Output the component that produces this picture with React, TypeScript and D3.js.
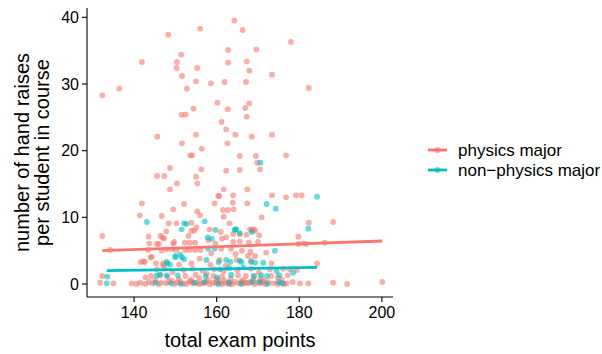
import React from 'react';
import * as d3 from 'd3';

const W = 602;
const H = 354;

const xTicks = [140, 160, 180, 200];
const yTicks = [0, 10, 20, 30, 40];
const xTitle = 'total exam points';
const yTitleLines = ['number of hand raises', 'per student in course'];
const groupNames = ['physics major', 'non−physics major'];
const groupColors = ['#F8766D', '#00BFC4'];

// physics major students: [total exam points, hand raises per student]
const physicsPoints: [number, number][] = [
  [164.3,39.5],[156.0,38.3],[166.3,38.1],[148.3,37.4],[178.0,36.3],[169.6,35.2],[162.8,35.1],[151.4,34.4],[167.3,33.4],[141.9,33.3],
  [150.4,33.3],[162.8,33.2],[150.3,32.4],[155.3,32.4],[167.9,32.0],[173.4,31.4],[151.6,31.2],[155.0,30.4],[161.9,30.3],[167.1,30.3],
  [158.6,30.1],[182.3,29.4],[136.4,29.3],[152.8,29.3],[132.3,28.3],[160.2,27.2],[167.9,27.1],[166.9,26.4],[154.4,26.3],[162.7,26.2],
  [151.5,25.4],[152.5,25.4],[167.3,25.1],[161.2,24.3],[162.3,23.2],[164.5,22.4],[155.0,22.4],[173.4,22.4],[145.6,22.1],[168.5,22.1],
  [151.6,21.1],[162.6,21.1],[156.4,20.3],
  [153.6,19.3],[154.1,19.3],[165.6,19.2],[169.5,19.2],[176.8,19.3],[169.8,18.2],[148.7,17.4],[156.3,17.2],[170.5,17.2],[165.6,17.1],
  [162.3,17.0],[145.6,16.2],[147.3,16.2],[155.0,16.1],[150.4,15.1],[155.3,15.1],[148.7,14.2],[161.7,14.2],[167.4,14.2],[164.0,13.3],
  [173.4,13.3],[179.2,13.3],[180.6,13.3],[160.4,13.2],[160.6,13.2],[176.8,13.0],[163.9,12.2],[141.9,12.1],[159.5,12.1],[167.4,12.1],
  [152.1,12.0],[149.5,11.2],[164.1,11.2],[161.5,11.1],[162.7,11.1],[155.3,10.9],[141.4,10.3],[156.0,10.3],[146.7,10.2],[161.7,10.1],
  [170.9,10.0],
  [188.2,9.3],[153.9,9.2],[182.3,9.2],[148.4,9.1],[150.3,9.1],[163.1,9.1],[155.1,8.5],[158.3,8.2],[168.1,8.2],[169.0,8.2],
  [153.9,8.0],[154.6,8.0],[168.5,8.1],[169.3,8.0],[147.8,7.9],[161.0,7.8],[164.0,7.5],[165.6,7.5],[167.2,7.4],[170.3,7.3],
  [132.3,7.2],[143.5,7.1],[146.4,7.2],[146.9,7.0],[153.2,7.2],[179.8,7.1],[162.3,7.0],[147.3,6.8],[161.3,6.8],[158.0,6.6],
  [149.7,6.3],[164.0,6.3],[170.0,6.3],[152.3,6.2],[153.5,6.2],[154.8,6.2],[165.6,6.4],[167.8,6.2],[186.2,6.2],[143.7,6.1],
  [149.5,6.1],[159.7,6.1],[181.0,6.1],[146.0,6.0],[145.5,6.0],[179.8,6.0],[181.8,6.0],
  [147.9,5.2],[149.2,5.2],[134.2,5.1],[143.4,5.1],[150.2,5.1],[152.4,5.1],[153.5,5.1],[154.8,5.1],[156.1,5.1],[161.1,5.3],
  [163.5,5.3],[146.7,5.0],[166.1,5.0],[168.2,4.8],[172.0,4.7],[158.7,4.6],[164.6,4.5],
  [144.0,4.0],[144.3,4.1],[167.6,4.2],[169.3,4.2],[160.7,3.6],[164.8,3.6],[168.4,3.5],[155.9,3.8],[141.6,3.3],[142.6,3.3],
  [142.3,3.4],[145.3,3.1],[147.0,3.1],[153.9,3.1],[173.3,3.1],[184.3,3.1],[147.1,2.8],[158.5,2.9],[162.2,2.7],[150.9,2.9],
  [145.5,2.2],[147.4,2.3],[152.0,2.1],[154.2,2.3],[156.6,2.0],[159.4,2.2],[165.0,2.1],[168.3,2.3],[172.9,2.2],[176.1,2.3],
  [177.7,2.2],[179.4,2.1],[161.7,1.9],[149.3,1.8],[170.2,1.7],
  [132.3,1.2],[144.1,1.2],[146.3,1.3],[148.1,1.1],[152.4,1.2],[154.9,1.4],[159.2,1.2],[161.3,1.1],[165.2,1.3],[167.1,1.2],
  [169.0,1.1],[173.2,1.2],[177.2,1.3],[155.8,0.9],[163.4,0.8],[150.8,0.7],[170.6,0.8],[142.8,1.0],[157.6,1.5],[174.8,1.0],
  [157.9,0.6],[161.9,0.5],[166.4,0.6],[149.1,0.5],[171.4,0.5],[175.8,0.6],[153.7,0.6],[145.1,0.6],[168.9,0.6],[160.2,0.7],
  [131.8,0.2],[135.0,0.1],[139.4,0.1],[141.5,0.2],[142.7,0.0],[143.6,0.3],[144.4,0.1],[145.9,0.0],[146.5,0.2],[147.6,0.1],
  [148.3,0.3],[149.7,0.0],[150.4,0.2],[151.9,0.1],[152.6,0.0],[153.3,0.3],[154.2,0.1],[155.1,0.2],[155.7,0.0],[156.9,0.1],
  [157.4,0.3],[158.3,0.0],[159.0,0.2],[159.8,0.1],[160.7,0.3],[161.2,0.0],[162.1,0.1],[162.9,0.2],[163.8,0.0],[164.4,0.3],
  [165.3,0.1],[166.1,0.0],[166.8,0.2],[167.7,0.1],[168.2,0.3],[169.1,0.0],[169.9,0.2],[170.7,0.1],[171.8,0.0],[172.4,0.3],
  [173.6,0.1],[174.7,0.0],[175.5,0.2],[177.0,0.1],[178.4,0.3],[180.2,0.1],[182.2,0.1],[188.2,0.2],[191.6,0.0],[200.1,0.3],
  [140.6,0.0],[151.2,0.3],[156.3,0.1],[163.1,0.0],[167.2,0.2],[171.1,0.3],[176.3,0.0],[154.0,0.4],[160.0,0.4],[166.0,0.4],
];

// non-physics major students
const nonPhysicsPoints: [number, number][] = [
  [170.6,18.2],[184.3,13.1],[172.1,12.0],[174.3,11.3],[157.1,9.4],[143.1,9.3],[152.1,9.1],[152.7,9.0],[182.2,8.3],[151.5,8.2],
  [164.5,8.2],[164.8,8.2],[159.7,8.1],[164.4,8.1],[168.5,7.8],[165.6,7.6],[157.8,7.0],[158.8,6.8],[159.5,5.3],[157.9,5.3],
  [174.1,5.0],[150.0,4.2],[151.2,4.4],[150.0,4.0],[151.6,4.0],[152.1,3.7],[157.5,3.6],[162.3,3.6],[165.6,3.5],[147.9,3.3],
  [148.0,3.1],[148.7,2.9],[171.3,3.2],[169.3,3.2],[160.5,3.3],[163.3,3.3],[166.0,3.3],[168.3,3.3],[174.5,1.9],[178.5,1.7],
  [163.0,2.4],[166.5,2.5],[160.8,2.2],
  [133.5,1.1],[145.5,1.3],[146.3,1.4],[147.9,1.3],[150.6,1.3],[157.3,1.2],[163.5,1.4],[169.0,1.2],[170.8,1.3],[172.2,1.2],
  [175.2,1.3],[160.1,1.0],
  [133.4,0.1],[145.2,0.2],[148.9,0.1],[151.3,0.0],[154.6,0.2],[157.0,0.3],[160.4,0.0],[163.0,0.2],[165.9,0.1],[168.6,0.3],
  [170.4,0.3],[172.3,0.0],[174.9,0.3],[176.0,0.1],
];

// linear fit end points (x, fitted y) for each group
const physicsFit: [number, number][] = [[132.3, 5.0], [200.1, 6.45]];
const nonPhysicsFit: [number, number][] = [[133.4, 2.0], [184.3, 2.5]];

const FONT = '"Liberation Sans", Arial, Helvetica, sans-serif';

export default function App() {
  const panel = { left: 87, right: 393, top: 8, bottom: 297 };
  const x = d3.scaleLinear().domain([128.6, 202.7]).range([panel.left, panel.right]);
  const y = d3.scaleLinear().domain([-1.95, 41.4]).range([panel.bottom, panel.top]);
  const line = d3.line<[number, number]>().x(d => x(d[0])).y(d => y(d[1]));

  const sets = [
    { pts: physicsPoints, fit: physicsFit, color: groupColors[0] },
    { pts: nonPhysicsPoints, fit: nonPhysicsFit, color: groupColors[1] },
  ];

  return (
    <svg width={W} height={H} style={{ position: 'absolute', left: 0, top: 0, background: '#fff' }} fontFamily={FONT}>
      <rect width={W} height={H} fill="#fff" />
      {sets.map((s, gi) => (
        <g key={gi}>
          {s.pts.map((p, i) => (
            <circle key={i} cx={x(p[0])} cy={y(p[1])} r={2.9} fill={s.color} fillOpacity={0.6} />
          ))}
        </g>
      ))}
      {sets.map((s, gi) => (
        <path key={gi} d={line(s.fit) || ''} stroke={s.color} strokeWidth={2.8} fill="none" />
      ))}
      {/* axes */}
      <line x1={panel.left} x2={panel.left} y1={panel.top} y2={panel.bottom} stroke="#000" strokeWidth={1.1} />
      <line x1={panel.left} x2={panel.right} y1={panel.bottom} y2={panel.bottom} stroke="#000" strokeWidth={1.1} />
      {yTicks.map(t => (
        <g key={t}>
          <line x1={panel.left - 5} x2={panel.left} y1={y(t)} y2={y(t)} stroke="#000" strokeWidth={1.1} />
          <text x={panel.left - 8} y={y(t)} dy="0.36em" textAnchor="end" fontSize={16} fill="#000">{t}</text>
        </g>
      ))}
      {xTicks.map(t => (
        <g key={t}>
          <line x1={x(t)} x2={x(t)} y1={panel.bottom} y2={panel.bottom + 5} stroke="#000" strokeWidth={1.1} />
          <text x={x(t)} y={panel.bottom + 21} textAnchor="middle" fontSize={16} fill="#000">{t}</text>
        </g>
      ))}
      <text x={(panel.left + panel.right) / 2} y={347} textAnchor="middle" fontSize={20} fill="#000">{xTitle}</text>
      {yTitleLines.map((l, i) => (
        <text key={i} transform={`translate(${29 + i * 20},${(panel.top + panel.bottom) / 2}) rotate(-90)`} textAnchor="middle" fontSize={20} fill="#000">{l}</text>
      ))}
      {/* legend */}
      {groupNames.map((g, i) => (
        <g key={g} transform={`translate(0,${150 + i * 20})`}>
          <line x1={428} x2={447} y1={0} y2={0} stroke={groupColors[i]} strokeWidth={2.8} />
          <circle cx={437.5} cy={0} r={2.9} fill={groupColors[i]} fillOpacity={0.6} />
          <text x={458} y={0} dy="0.36em" fontSize={17} fill="#000">{g}</text>
        </g>
      ))}
    </svg>
  );
}
